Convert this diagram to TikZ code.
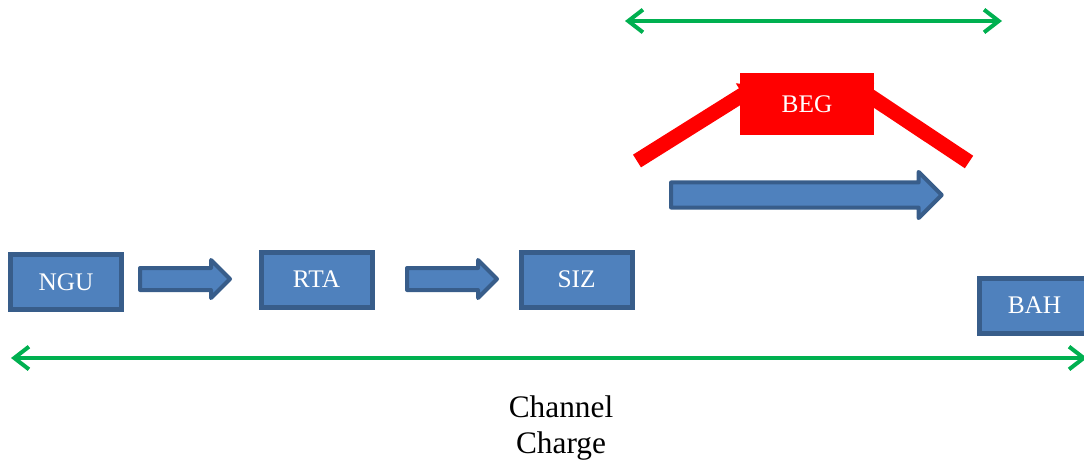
\documentclass[tikz,border=0pt]{standalone}
\usepackage{fontspec}
\setmainfont{Liberation Serif}
\usepackage{tikz}
\usetikzlibrary{arrows.meta}
\usetikzlibrary{shapes.arrows}
\usetikzlibrary{backgrounds}

\definecolor{boxfill}{HTML}{4F81BD}
\definecolor{boxedge}{HTML}{385D8A}
\definecolor{spangreen}{HTML}{00B050}

\begin{document}
\begin{tikzpicture}[x=0.75pt,y=-0.75pt,
    blockbox/.style={draw=boxedge,fill=boxfill,line width=3.75pt,minimum width=83.25pt,minimum height=41.25pt,inner sep=0pt,text=white,font=\fontsize{19}{22}\selectfont},
    flowarrow/.style={single arrow,draw=boxedge,fill=boxfill,line width=3pt,line join=round,inner xsep=0pt,text height=0pt,text depth=0pt,anchor=tail},
    span/.style={draw=spangreen,line width=3pt,{Straight Barb[length=11pt,width=17pt]}-{Straight Barb[length=11pt,width=17pt]}},
    redbar/.style={draw=red,line width=11.25pt,-{Triangle[length=14pt,width=19pt]}}]
          \clip (0,0) rectangle (1084,461);
          \node[blockbox] (ngu) at (66,282) {NGU};
          \node[blockbox] (rta) at (316.5,279.5) {RTA};
          \node[blockbox] (siz) at (576.5,279.5) {SIZ};
          \node[blockbox] (bah) at (1034.5,305.5) {BAH};
          \node[fill=red,minimum width=100.5pt,minimum height=46.5pt,inner sep=0pt,text=white,font=\fontsize{19}{22}\selectfont] (beg) at (807,104) {BEG};
          \node[flowarrow,minimum height=67.5pt,inner ysep=6.75pt,single arrow head extend=6pt] (push1) at (138,279) {};
          \node[flowarrow,minimum height=67.5pt,inner ysep=6.75pt,single arrow head extend=6pt] (push2) at (405,279) {};
          \node[flowarrow,minimum height=203pt,inner ysep=7.9pt,single arrow head extend=7.9pt] (shift) at (669,195) {};
          % red arms run under the BEG box
          \coordinate (begL) at (637,161);
          \coordinate (begR) at (969,162);
          \coordinate (tipL) at ([shift={(19,12)}]beg.north west);
          \coordinate (tipR) at ([shift={(-23,11)}]beg.north east);
          \begin{scope}[on background layer]
            \draw[redbar] (begL) -- (tipL);
            \draw[redbar] (begR) -- (tipR);
          \end{scope}
          \coordinate (topL) at (625,21);
          \coordinate (topR) at (1002,21);
          \coordinate (lowL) at (11,358);
          \coordinate (lowR) at (1087,358);
          \draw[span] (topL) -- (topR);
          \draw[span] (lowL) -- (lowR);
          \node[align=center,inner sep=0pt,font=\fontsize{23.5}{27}\selectfont] (label) at (561,428) {Channel\\Charge};
        \end{tikzpicture}
\end{document}
